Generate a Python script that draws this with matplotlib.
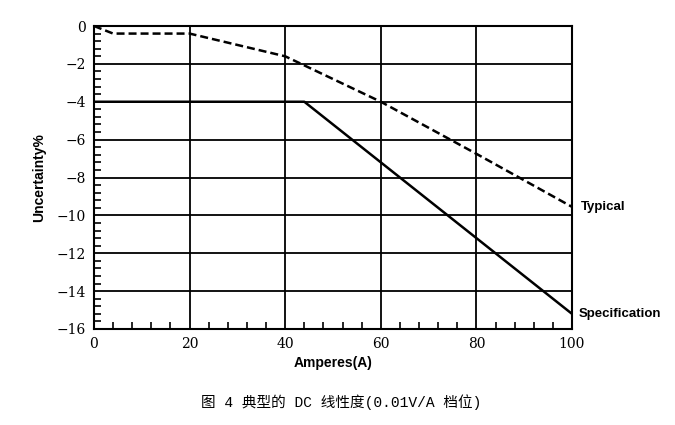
import matplotlib.pyplot as plt
from matplotlib.ticker import MultipleLocator

# curve values
typ_x = [0, 4, 20, 40, 60, 80, 100]
typ_y = [0, -0.4, -0.4, -1.6, -4.0, -6.75, -9.55]
spec_x = [0, 44, 100]
spec_y = [-4, -4, -15.2]
xticks = [0, 20, 40, 60, 80, 100]
yticks = [0, -2, -4, -6, -8, -10, -12, -14, -16]
caption = '图 4 典型的 DC 线性度(0.01V/A 档位)'

fig = plt.figure(figsize=(6.75, 4.25), dpi=100)
ax = fig.add_axes([94/675, 1 - 329/425, (572 - 94)/675, (329 - 26)/425])

ax.plot(typ_x, typ_y, color='black', lw=1.8, ls=(0, (3.2, 1.6)), zorder=3)
ax.plot(spec_x, spec_y, color='black', lw=1.8, zorder=3)

ax.set_xlim(0, 100)
ax.set_ylim(-16, 0)
ax.set_xticks(xticks)
ax.set_yticks(yticks)
ax.xaxis.set_minor_locator(MultipleLocator(4))
ax.yaxis.set_minor_locator(MultipleLocator(0.4))
ax.grid(True, which='major', color='black', lw=1.3)
ax.tick_params(which='major', length=0, pad=6)
ax.tick_params(which='minor', direction='in', length=5, width=1.2, color='black')
ax.tick_params(axis='y', which='minor', right=False)
ax.tick_params(axis='x', which='minor', top=False)
for s in ax.spines.values():
    s.set_linewidth(1.5)
for lab in ax.get_xticklabels() + ax.get_yticklabels():
    lab.set_fontfamily('DejaVu Serif')
    lab.set_fontsize(10)

ax.set_xlabel('Amperes(A)', fontsize=10, fontweight='bold', family='Liberation Sans', labelpad=3)
ax.set_ylabel('Uncertainty%', fontsize=10, fontweight='bold', family='Liberation Sans', labelpad=7)

ax.text(101.8, typ_y[-1], 'Typical', fontsize=9.5, fontweight='bold',
        family='Liberation Sans', va='center', ha='left')
ax.text(101.3, spec_y[-1], 'Specification', fontsize=9.5, fontweight='bold',
        family='Liberation Sans', va='center', ha='left')

fig.text(341/675, 1 - 402/425, caption, fontsize=10.5, ha='center', va='center',
         family=['Liberation Mono', 'Noto Sans CJK SC'])

fig.savefig('out.png', dpi=100)
